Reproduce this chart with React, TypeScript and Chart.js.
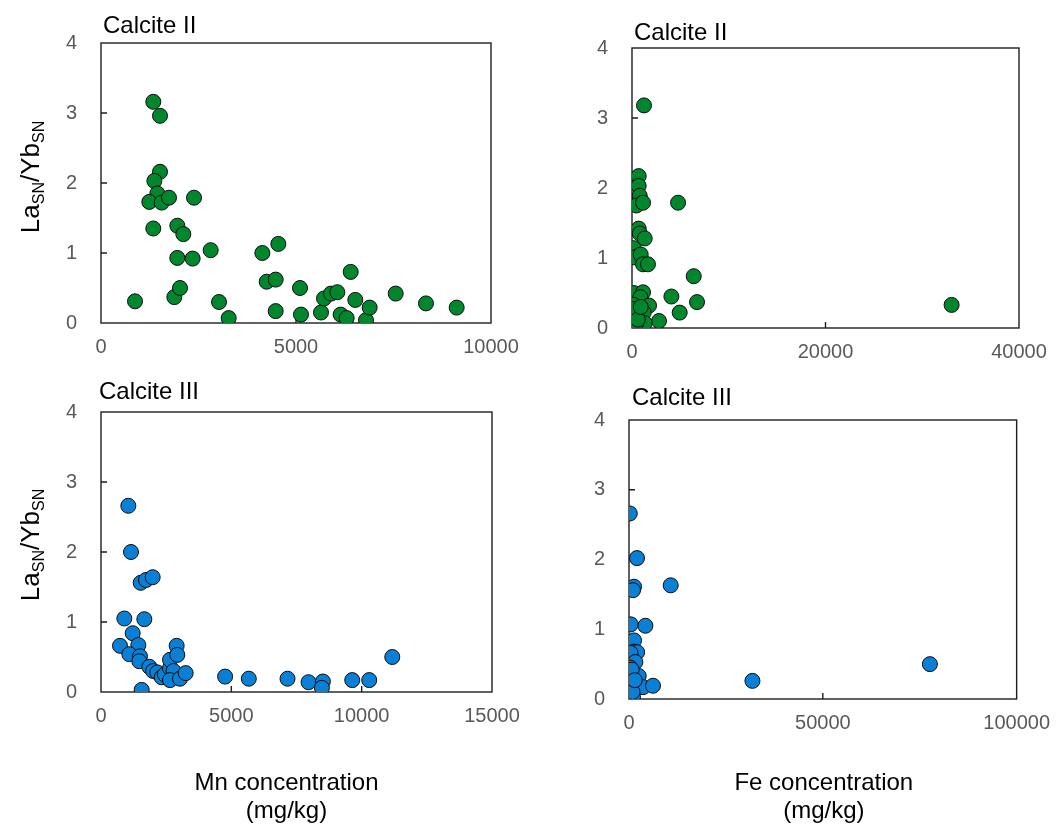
import React, { useEffect, useRef } from 'react';
import { Chart, registerables } from 'chart.js';

Chart.register(...registerables);

const FONT = '"Liberation Sans", Arial, Helvetica, sans-serif';

// ---------- DATA ----------
// Calcite II: Mn concentration (mg/kg) vs LaSN/YbSN
const mnCalciteIIX = [872, 1341, 1513, 1513, 1368, 1444, 1239, 1556, 1744, 2385, 1341, 1957, 2111, 1957, 2350, 2812, 1880, 2026, 3026, 3274, 4137, 4547, 4248, 4479, 4479, 5103, 5128, 5641, 5718, 5897, 6060, 6145, 6299, 6402, 6521, 6795, 6889, 7556, 8333, 9120];
const mnCalciteIIY = [0.31, 3.16, 2.96, 2.16, 2.03, 1.85, 1.73, 1.72, 1.79, 1.79, 1.35, 1.39, 1.27, 0.93, 0.92, 1.04, 0.37, 0.50, 0.30, 0.07, 1.00, 1.13, 0.59, 0.62, 0.17, 0.50, 0.12, 0.15, 0.35, 0.42, 0.44, 0.12, 0.07, 0.73, 0.33, 0.04, 0.22, 0.42, 0.28, 0.22];

// Calcite II: Fe concentration (mg/kg) vs LaSN/YbSN
const feCalciteIIX = [1240, 690, 690, 800, 450, 1140, 4760, 690, 800, 1310, 175, 175, 900, 1140, 1650, 6380, 175, 1140, 870, 4070, 6720, 175, 1760, 4930, 1210, 450, 2790, 1310, 450, 33034, 175, 600, 900];
const feCalciteIIY = [3.18, 2.17, 2.03, 1.89, 1.75, 1.79, 1.79, 1.42, 1.35, 1.28, 1.14, 1.01, 1.05, 0.91, 0.91, 0.74, 0.50, 0.51, 0.44, 0.45, 0.37, 0.33, 0.32, 0.22, 0.22, 0.17, 0.10, 0.07, 0.07, 0.33, 0.27, 0.12, 0.30];

// Calcite III: Mn concentration (mg/kg) vs LaSN/YbSN
const mnCalciteIIIX = [1048, 1151, 1522, 1726, 1982, 895, 1662, 1215, 729, 1432, 1087, 1496, 1470, 1854, 2000, 2160, 2327, 2450, 2647, 2647, 2780, 2903, 2927, 2647, 3030, 3248, 1560, 4761, 5670, 7155, 7961, 8512, 8473, 9638, 10290, 11174];
const mnCalciteIIIY = [2.66, 2.00, 1.56, 1.60, 1.64, 1.05, 1.04, 0.84, 0.66, 0.67, 0.54, 0.51, 0.44, 0.36, 0.30, 0.28, 0.21, 0.25, 0.34, 0.46, 0.30, 0.66, 0.53, 0.17, 0.19, 0.27, 0.03, 0.22, 0.19, 0.19, 0.14, 0.15, 0.06, 0.17, 0.17, 0.50];

// Calcite III: Fe concentration (mg/kg) vs LaSN/YbSN
const feCalciteIIIX = [200, 2065, 1290, 1030, 10757, 440, 4230, 1290, 1290, 2100, 400, 1640, 600, 2500, 300, 700, 600, 3610, 6196, 1030, 900, 1500, 31842, 77625];
const feCalciteIIIY = [2.66, 2.02, 1.61, 1.56, 1.63, 1.07, 1.05, 0.84, 0.68, 0.67, 0.66, 0.53, 0.34, 0.33, 0.45, 0.42, 0.19, 0.17, 0.19, 0.03, 0.10, 0.27, 0.26, 0.50];

const panelTitles = ['Calcite II', 'Calcite II', 'Calcite III', 'Calcite III'];
const xAxisMax = [10000, 40000, 15000, 100000];
const xAxisStep = [5000, 20000, 5000, 50000];
const yAxisMax = 4;
const yAxisStep = 1;
const mnAxisTitle = ['Mn concentration', '(mg/kg)'];
const feAxisTitle = ['Fe concentration', '(mg/kg)'];
const yTitleParts = [
  { text: 'La', sub: false },
  { text: 'SN', sub: true },
  { text: '/Yb', sub: false },
  { text: 'SN', sub: true },
];

// ---------- LAYOUT / STYLE ----------
const LEFT_SPACE = 95;
const TOP_SPACE = 40;
const RIGHT_SPACE = 45;
const PAGE_H = 826;

const GREEN = '#00872e';
const BLUE = '#0a7fd6';
const BOX = '#1e1e1e';

type PanelProps = {
  rect: { l: number; t: number; r: number; b: number };
  xs: number[];
  ys: number[];
  color: string;
  xMax: number;
  xStep: number;
  title: string;
  titleDx: number;
  titleGap: number;
  yTitle?: boolean;
  yTitleCenterShift?: number;
  xTitle?: string[];
  xTitleShift?: number;
  xTitleBaselines?: number[];
  bottomToPage?: boolean;
};

function Panel(p: PanelProps) {
  const ref = useRef<HTMLCanvasElement | null>(null);
  const { l, t, r, b } = p.rect;
  const canvasLeft = l - LEFT_SPACE;
  const canvasTop = t - TOP_SPACE;
  const bottomSpace = p.bottomToPage ? PAGE_H - b : 45;
  const W = r - l + LEFT_SPACE + RIGHT_SPACE;
  const H = b - t + TOP_SPACE + bottomSpace;

  useEffect(() => {
    if (!ref.current) return;
    const deco = {
      id: 'panelDeco',
      beforeDatasetsDraw(chart: any) {
        const { ctx, chartArea: a, scales } = chart;
        ctx.save();
        ctx.strokeStyle = BOX;
        ctx.lineWidth = 1.4;
        ctx.strokeRect(a.left, a.top, a.right - a.left, a.bottom - a.top);
        ctx.beginPath();
        for (const tk of scales.y.ticks) {
          if (tk.value <= 0 || tk.value >= yAxisMax) continue;
          const py = scales.y.getPixelForValue(tk.value);
          ctx.moveTo(a.left, py);
          ctx.lineTo(a.left + 6, py);
        }
        for (const tk of scales.x.ticks) {
          if (tk.value <= 0 || tk.value >= p.xMax) continue;
          const px = scales.x.getPixelForValue(tk.value);
          ctx.moveTo(px, a.bottom);
          ctx.lineTo(px, a.bottom - 6);
        }
        ctx.stroke();
        ctx.restore();
      },
      afterDraw(chart: any) {
        const { ctx, chartArea: a } = chart;
        ctx.save();
        ctx.fillStyle = '#000';
        ctx.font = `24px ${FONT}`;
        ctx.textAlign = 'left';
        ctx.textBaseline = 'alphabetic';
        ctx.fillText(p.title, a.left + p.titleDx, a.top - p.titleGap);

        if (p.yTitle) {
          const big = `26px ${FONT}`;
          const small = `16px ${FONT}`;
          let total = 0;
          const widths = yTitleParts.map((s) => {
            ctx.font = s.sub ? small : big;
            const w = ctx.measureText(s.text).width;
            total += w;
            return w;
          });
          const cx = 39 - canvasLeft;
          const cy = (a.top + a.bottom) / 2 + (p.yTitleCenterShift || 0);
          ctx.translate(cx, cy);
          ctx.rotate(-Math.PI / 2);
          let x = -total / 2;
          yTitleParts.forEach((s, i) => {
            ctx.font = s.sub ? small : big;
            ctx.fillText(s.text, x, s.sub ? 5 : 0);
            x += widths[i];
          });
          ctx.setTransform(1, 0, 0, 1, 0, 0);
        }

        if (p.xTitle && p.xTitleBaselines) {
          ctx.font = `24px ${FONT}`;
          ctx.textAlign = 'center';
          const cx = (a.left + a.right) / 2 + (p.xTitleShift || 0);
          p.xTitle.forEach((line, i) => {
            ctx.fillText(line, cx, p.xTitleBaselines![i] - canvasTop);
          });
        }
        ctx.restore();
      },
    };

    const chart = new Chart(ref.current, {
      type: 'scatter',
      data: {
        datasets: [
          {
            data: p.xs.map((x, i) => ({ x, y: p.ys[i] })),
            backgroundColor: p.color,
            borderColor: '#0d0d0d',
            borderWidth: 1,
            pointRadius: 7.5,
            pointHoverRadius: 7.5,
          },
        ],
      },
      options: {
        responsive: false,
        animation: false,
        devicePixelRatio: 1,
        events: [],
        layout: { padding: { left: 0, top: TOP_SPACE, right: RIGHT_SPACE, bottom: 0 } },
        plugins: { legend: { display: false }, tooltip: { enabled: false }, title: { display: false } },
        scales: {
          x: {
            type: 'linear',
            min: 0,
            max: p.xMax,
            border: { display: false },
            grid: { display: false, drawTicks: false },
            ticks: {
              stepSize: p.xStep,
              padding: 12,
              color: '#595959',
              font: { family: FONT, size: 20 },
              maxRotation: 0,
              callback: (v: any) => String(v),
            },
            afterFit: (s: any) => {
              s.height = bottomSpace;
            },
          },
          y: {
            type: 'linear',
            min: 0,
            max: yAxisMax,
            border: { display: false },
            grid: { display: false, drawTicks: false },
            ticks: {
              stepSize: yAxisStep,
              padding: 24,
              color: '#595959',
              font: { family: FONT, size: 20 },
              callback: (v: any) => String(v),
            },
            afterFit: (s: any) => {
              s.width = LEFT_SPACE;
            },
          },
        },
      },
      plugins: [deco],
    } as any);
    return () => chart.destroy();
  }, []);

  return (
    <canvas
      ref={ref}
      width={W}
      height={H}
      style={{ position: 'absolute', left: canvasLeft, top: canvasTop, width: W, height: H }}
    />
  );
}

export default function App() {
  return (
    <div
      style={{
        position: 'absolute',
        left: 0,
        top: 0,
        width: 1059,
        height: 824,
        overflow: 'hidden',
        background: '#fff',
      }}
    >
      <Panel
        rect={{ l: 101, t: 43, r: 491, b: 323 }}
        xs={mnCalciteIIX}
        ys={mnCalciteIIY}
        color={GREEN}
        xMax={xAxisMax[0]}
        xStep={xAxisStep[0]}
        title={panelTitles[0]}
        titleDx={2}
        titleGap={10}
        yTitle
        yTitleCenterShift={-6}
      />
      <Panel
        rect={{ l: 632, t: 48, r: 1019, b: 328 }}
        xs={feCalciteIIX}
        ys={feCalciteIIY}
        color={GREEN}
        xMax={xAxisMax[1]}
        xStep={xAxisStep[1]}
        title={panelTitles[1]}
        titleDx={2}
        titleGap={8}
      />
      <Panel
        rect={{ l: 101, t: 412, r: 492, b: 692 }}
        xs={mnCalciteIIIX}
        ys={mnCalciteIIIY}
        color={BLUE}
        xMax={xAxisMax[2]}
        xStep={xAxisStep[2]}
        title={panelTitles[2]}
        titleDx={-2}
        titleGap={13}
        yTitle
        yTitleCenterShift={-7}
        xTitle={mnAxisTitle}
        xTitleShift={-10}
        xTitleBaselines={[790, 818]}
        bottomToPage
      />
      <Panel
        rect={{ l: 629, t: 420, r: 1017, b: 699 }}
        xs={feCalciteIIIX}
        ys={feCalciteIIIY}
        color={BLUE}
        xMax={xAxisMax[3]}
        xStep={xAxisStep[3]}
        title={panelTitles[3]}
        titleDx={3}
        titleGap={15}
        xTitle={feAxisTitle}
        xTitleShift={1}
        xTitleBaselines={[790, 818]}
        bottomToPage
      />
    </div>
  );
}
